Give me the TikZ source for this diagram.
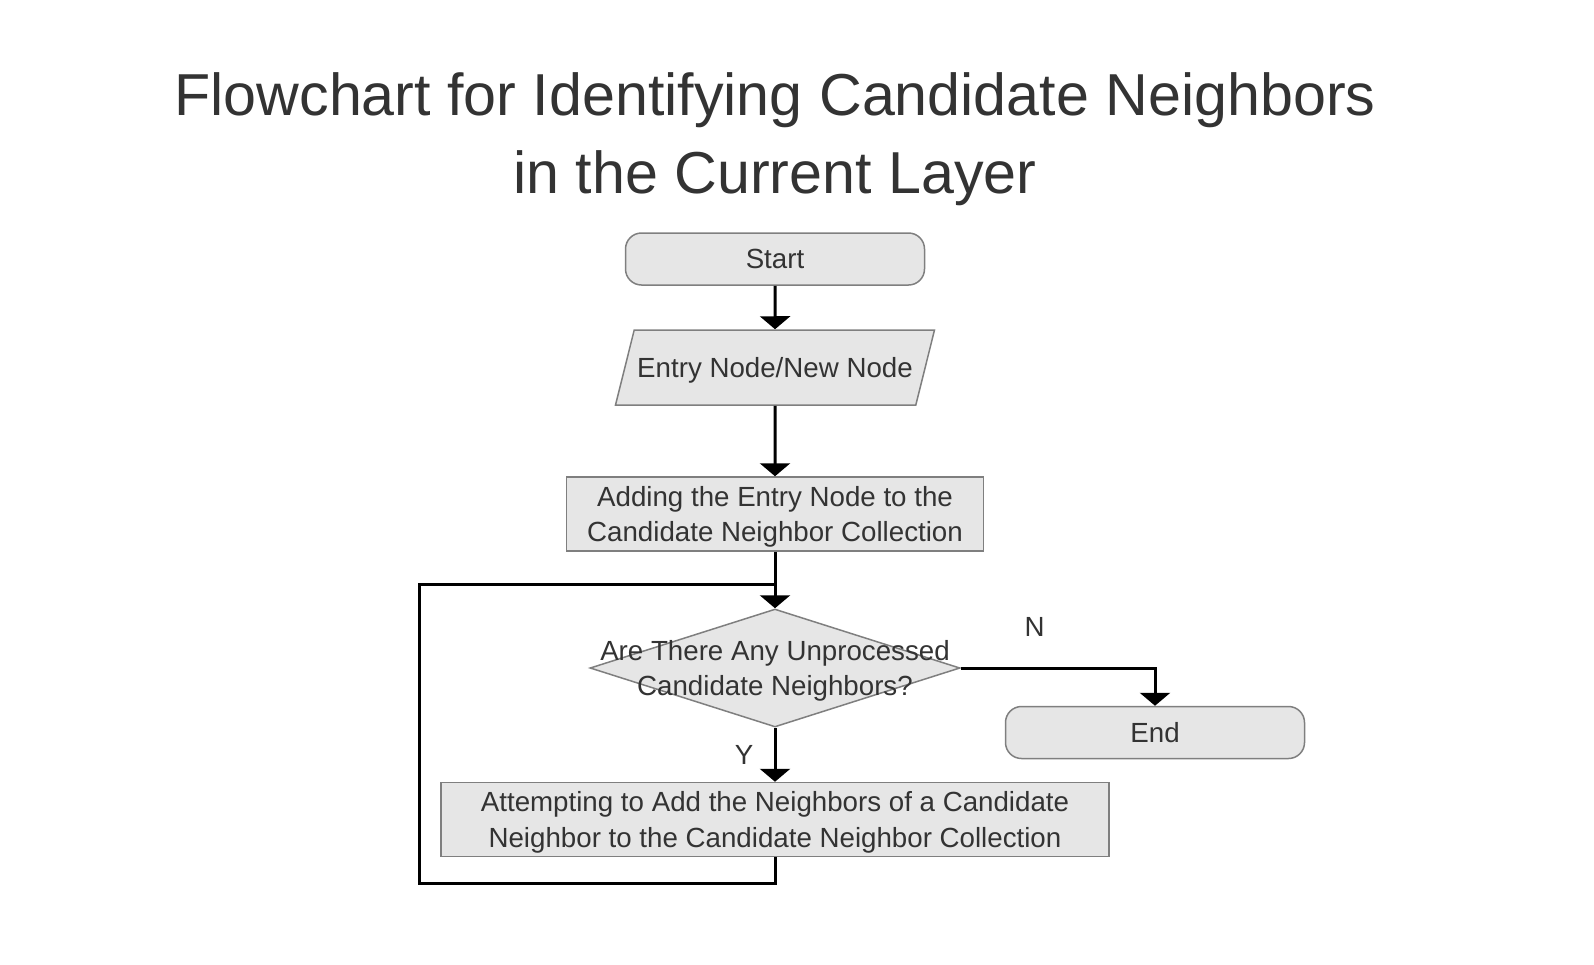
\documentclass[tikz,border=0pt]{standalone}
\usepackage{fontspec}
\setmainfont{Liberation Sans}
\usetikzlibrary{shapes.geometric,arrows.meta}
\definecolor{boxfill}{HTML}{E6E6E6}
\definecolor{boxline}{HTML}{7F7F7F}
\definecolor{inktext}{HTML}{333333}
\begin{document}
\begin{tikzpicture}[x=0.5pt, y=-0.5pt,
	every node/.style={align=center, text=inktext, font=\fontsize{13.85}{17.8}\selectfont},
	box/.style={draw=boxline, fill=boxfill, line width=0.75pt, inner sep=0pt, text depth=0pt},
	terminal/.style={box, rounded corners=8pt, minimum width=149.5pt, minimum height=26pt},
	io/.style={box, trapezium, trapezium left angle=76, trapezium right angle=104, trapezium stretches body=true, minimum width=159.5pt, text height=9.9pt, inner ysep=13.8pt},
	process/.style={box, minimum height=37pt},
	decision/.style={box, diamond, minimum width=185pt, minimum height=59pt},
	flow/.style={-{Triangle[width=15pt,length=6.5pt]}, line width=1.5pt}]
\path[use as bounding box] (0,0) rectangle (1594,964);
\node[font=\fontsize{29.6}{39}\selectfont] (title) at (775,139) {Flowchart for Identifying Candidate Neighbors\\in the Current Layer};
\node[terminal] (start) at (775,259) {Start};
\node[io] (entry) at (775,367.5) {Entry Node/New Node};
\node[process, minimum width=208.5pt] (adding) at (775,514) {Adding the Entry Node to the\\Candidate Neighbor Collection};
\node[decision, label={[align=center, text depth=0pt]center:Are There Any Unprocessed\\Candidate Neighbors?}] (check) at (775,668) {};
\node[terminal] (end) at (1155,732.5) {End};
\node[process, minimum width=334pt] (attempt) at (775,819.5) {Attempting to Add the Neighbors of a Candidate\\Neighbor to the Candidate Neighbor Collection};
\coordinate (loopcorner) at (419,883);
\coordinate (loopjoin) at (775,584);
\draw[flow] (start) -- (entry);
\draw[flow] (entry) -- (adding);
\draw[flow] (adding) -- (check);
\draw[flow] (check) -- node[xshift=-15.5pt] {Y} (attempt);
\draw[flow] (check) -| node[pos=0.19, yshift=20.5pt] {N} (end);
\draw[line width=1.5pt] (attempt.south) |- (loopcorner) |- (loopjoin);
\end{tikzpicture}
\end{document}
